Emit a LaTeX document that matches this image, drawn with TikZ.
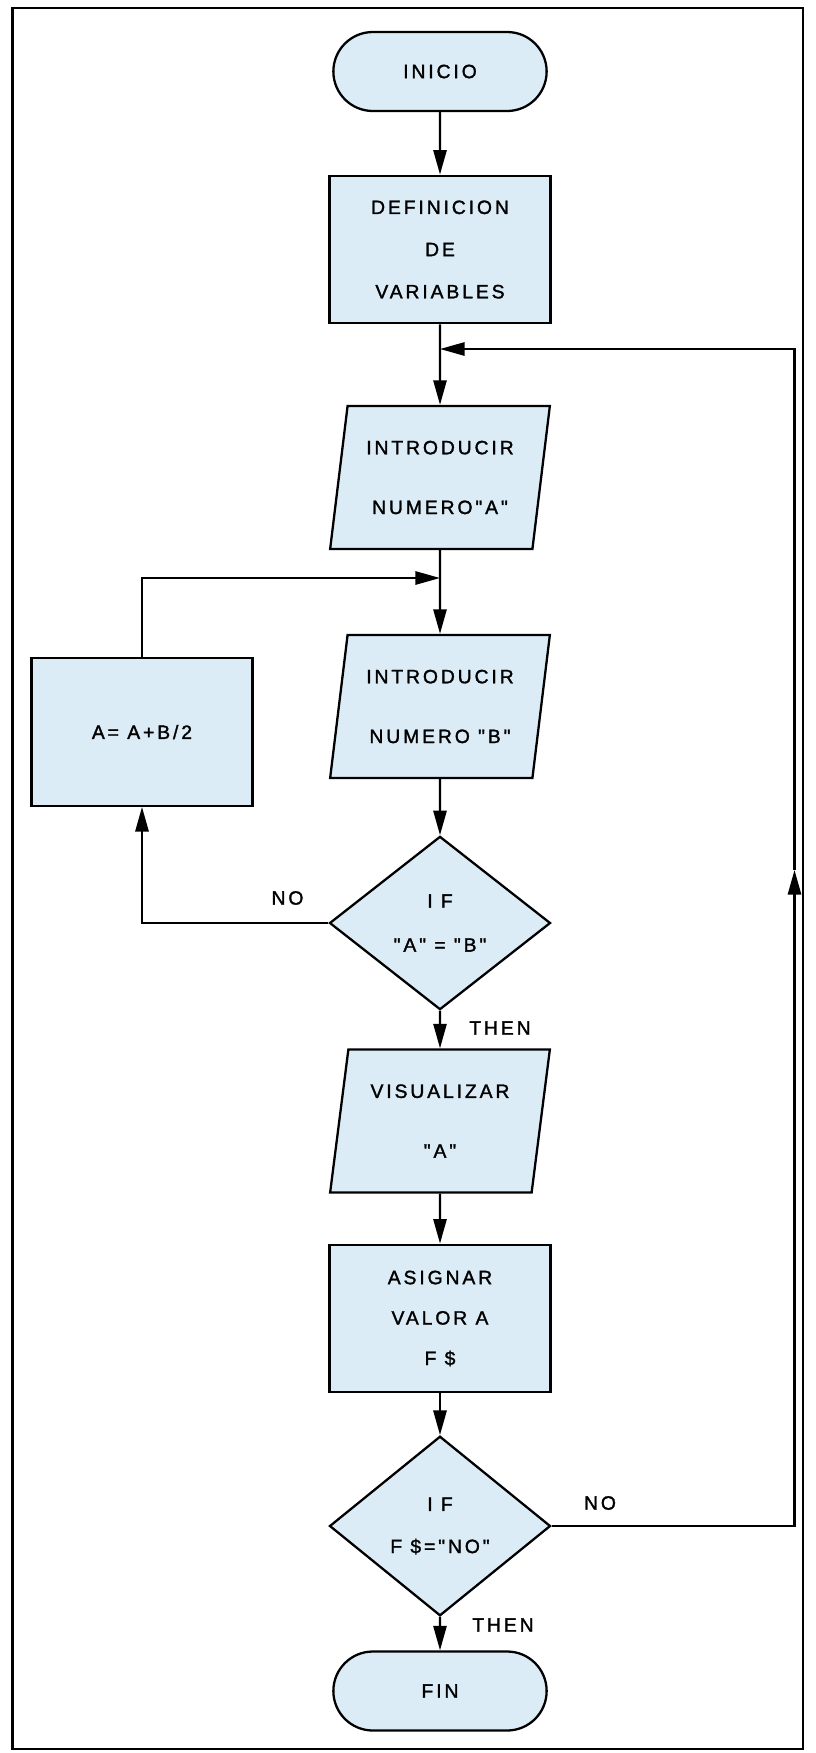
\documentclass[tikz,border=0pt]{standalone}
\usepackage{fontspec}
\newfontfamily\chartfont{Liberation Sans}[LetterSpace=15,FakeBold=1.5,Ligatures=TeXOff]
\usetikzlibrary{positioning,shapes.geometric,shapes.misc,arrows.meta}
\definecolor{boxblue}{RGB}{220,236,246}

\begin{document}
\begin{tikzpicture}[
  font=\chartfont\fontsize{11}{13}\selectfont,
  terminal/.style={draw,rounded rectangle,fill=boxblue,line width=1.3pt,align=center,minimum width=4.5cm,minimum height=1.58cm},
  process/.style={draw,rectangle,fill=boxblue,line width=1.3pt,align=center,minimum width=4.42cm,minimum height=2.95cm},
  inout/.style={draw,trapezium,trapezium left angle=80,trapezium right angle=100,trapezium stretches,fill=boxblue,line width=1.3pt,align=center,minimum width=4.4cm,minimum height=2.86cm},
  decision/.style={draw,diamond,fill=boxblue,line width=1.3pt,align=center,minimum width=4.42cm,minimum height=3.2cm},
  flow/.style={line width=1.3pt,-{Triangle[length=14pt,width=7.5pt]}},
  lbl/.style={inner sep=1pt}
]
  \useasboundingbox (0,0) rectangle (16.32,-35.06);
  \fill[white] (0,0) rectangle (16.32,-35.06);
  \draw[line width=1.5pt] (0.25,-0.16) rectangle (16.06,-34.98);

  % main column
  \node[terminal] (inicio) at (8.8,-1.43) {INICIO};
  \node[process] (def) at (8.8,-4.99) {DEFINICION\\[11pt]DE\\[11pt]VARIABLES};
  \node[inout] (inA) at (8.8,-9.55) {INTRODUCIR\\[21pt]NUMERO"A"};
  \node[inout] (inB) at (8.8,-14.13) {INTRODUCIR\\[21pt]NUMERO "B"};
  \node[decision] (d1) at (8.8,-18.46) {I F\\[12pt]"A" = "B"};
  \node[inout] (vis) at (8.8,-22.42) {VISUALIZAR\\[21pt]"A"};
  \node[process] (asg) at (8.8,-26.37) {ASIGNAR\\[10pt]VALOR A\\[10pt]F \$};
  \node[decision] (d2) at (8.8,-30.52) {I F\\[11pt]F \$="NO"};
  \node[terminal] (fin) at (8.8,-33.82) {FIN};

  % side box
  \node[process] (upd) at (2.84,-14.64) {A= A+B/2};

  \coordinate (jA) at (8.8,-6.98);
  \coordinate (jB) at (8.8,-11.56);
  \coordinate (rmark) at (15.89,-17.4);

  \draw[flow] (inicio) -- (def);
  \draw[flow] (def) -- (inA);
  \draw[flow] (inA) -- (inB);
  \draw[flow] (inB) -- (d1);
  \draw[flow] (d1) -- (vis);
  \draw[flow] (vis) -- (asg);
  \draw[flow] (asg) -- (d2);
  \draw[flow] (d2) -- (fin);

  \draw[flow] (d1.west) -| (upd.south);
  \draw[flow] (upd.north) |- (jB);
  \draw[flow] (d2.east) -| (rmark);
  \draw[flow] (rmark) |- (jA);

  \node[lbl] (no1) at (5.75,-17.96) {NO};
  \node[lbl] (then1) at (10.0,-20.56) {THEN};
  \node[lbl] (no2) at (12.0,-30.06) {NO};
  \node[lbl] (then2) at (10.06,-32.5) {THEN};
\end{tikzpicture}
\end{document}
